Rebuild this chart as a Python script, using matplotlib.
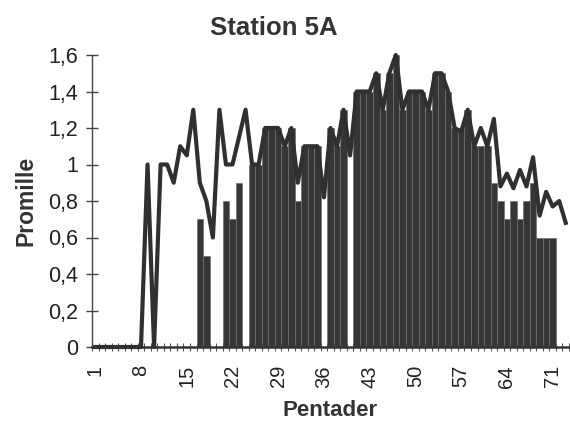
import matplotlib
matplotlib.use('Agg')
import matplotlib.pyplot as plt
import numpy as np

plt.rcParams['font.family'] = ['Liberation Sans', 'DejaVu Sans']

# pentade 1..73
pentader = list(range(1, 74))

# søjler (bars)
soejler = [0, 0, 0, 0, 0, 0, 0, 0, 0, 0,
           0, 0, 0, 0, 0, 0, 0.7, 0.5, 0, 0,
           0.8, 0.7, 0.9, 0, 1.0, 1.0, 1.2, 1.2, 1.2, 1.1,
           1.2, 0.8, 1.1, 1.1, 1.1, 0, 1.2, 1.1, 1.3, 0,
           1.4, 1.4, 1.4, 1.5, 1.3, 1.5, 1.6, 1.3, 1.4, 1.4,
           1.4, 1.3, 1.5, 1.5, 1.4, 1.2, 1.2, 1.3, 1.1, 1.1,
           1.1, 0.9, 0.8, 0.7, 0.8, 0.7, 0.8, 0.9, 0.6, 0.6,
           0.6, 0, 0]

# kurve (line)
kurve = [0, 0, 0, 0, 0, 0, 0, 0, 1.0, 0,
         1.0, 1.0, 0.9, 1.1, 1.05, 1.3, 0.9, 0.8, 0.6, 1.3,
         1.0, 1.0, 1.15, 1.3, 1.0, 1.0, 1.2, 1.2, 1.2, 1.1,
         1.2, 0.9, 1.1, 1.1, 1.1, 0.82, 1.2, 1.1, 1.3, 1.05,
         1.4, 1.4, 1.4, 1.5, 1.3, 1.5, 1.6, 1.3, 1.4, 1.4,
         1.4, 1.3, 1.5, 1.5, 1.4, 1.2, 1.18, 1.3, 1.1, 1.2,
         1.1, 1.25, 0.88, 0.95, 0.87, 0.97, 0.88, 1.04, 0.72, 0.85,
         0.77, 0.8, 0.68]

xlabels = ['1', '8', '15', '22', '29', '36', '43', '50', '57', '64', '71']
yticks = [0, 0.2, 0.4, 0.6, 0.8, 1.0, 1.2, 1.4, 1.6]
ylabels = ['0', '0,2', '0,4', '0,6', '0,8', '1', '1,2', '1,4', '1,6']

fig = plt.figure(figsize=(5.7, 4.29), dpi=100)
ax = fig.add_axes([92 / 570, 1 - 347 / 429, 477 / 570, 292 / 429])

ax.bar(pentader, soejler, width=1.0, color='#363636', edgecolor='#6e6e6e', lw=0.5)
ax.plot(pentader, kurve, color='#303030', lw=3.0, clip_on=False, zorder=3)

ax.set_xlim(0.5, 73.5)
ax.set_ylim(0, 1.6)

ax.spines['top'].set_visible(False)
ax.spines['right'].set_visible(False)
ax.spines['left'].set_color('#444444')
ax.spines['bottom'].set_color('#333333')
ax.spines['left'].set_linewidth(1.0)
ax.spines['bottom'].set_linewidth(1.8)

ax.set_yticks(yticks)
ax.set_yticklabels(ylabels, fontsize=15.5, color='#222222')
ax.tick_params(axis='y', direction='inout', length=8, width=1.0, color='#444444', pad=6)

ax.set_xticks([int(s) for s in xlabels])
ax.set_xticklabels(xlabels, rotation=90, fontsize=14.5, color='#222222')
ax.set_xticks(np.arange(0.5, 74, 1), minor=True)
ax.tick_params(axis='x', which='major', length=0, pad=13)
ax.tick_params(axis='x', which='minor', direction='inout', length=6, width=0.8, color='#555555')

ax.set_xlabel('Pentader', fontsize=16, fontweight='bold', color='#333333', labelpad=9)
ax.set_ylabel('Promille', fontsize=16.5, fontweight='bold', color='#333333', labelpad=8)

fig.text(0.48, 0.935, 'Station 5A', fontsize=18.5, fontweight='bold', color='#333333',
         ha='center', va='center')

fig.savefig('out.png', dpi=100)
